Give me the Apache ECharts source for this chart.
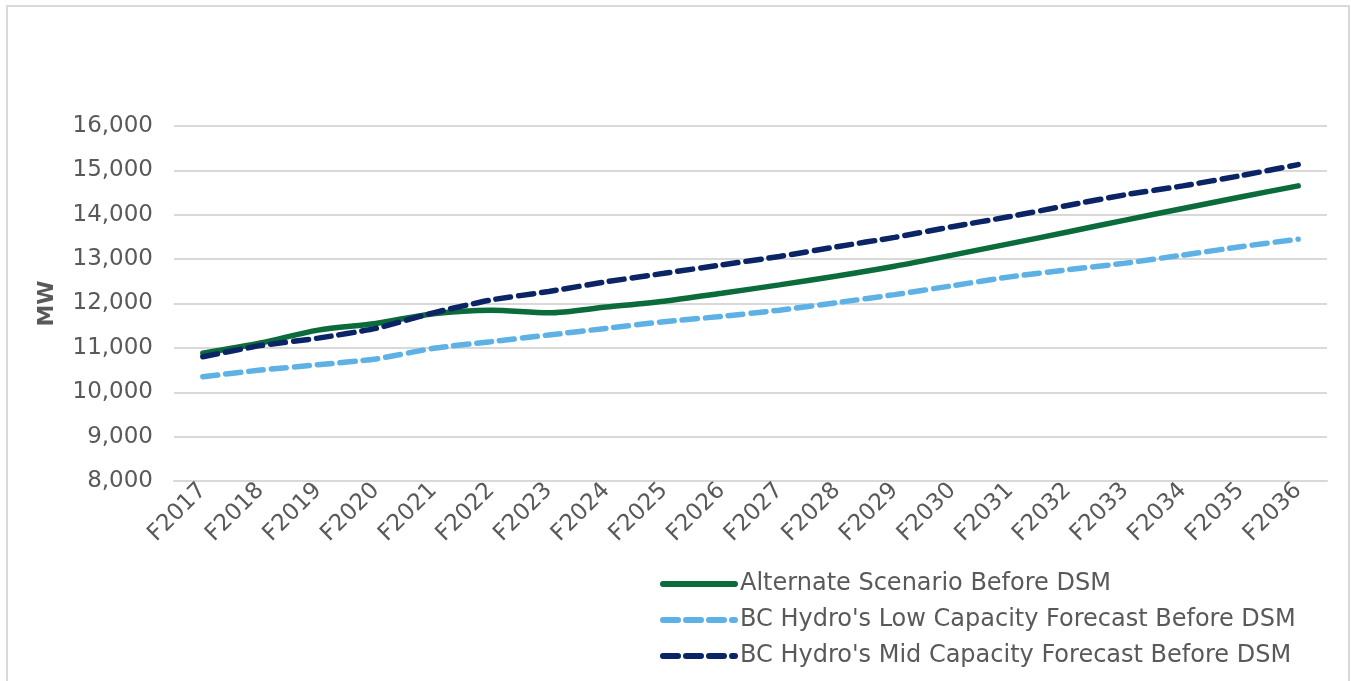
<!DOCTYPE html>
<html>
<head>
<meta charset="utf-8">
<script src="https://cdn.jsdelivr.net/npm/echarts@6/dist/echarts.min.js"></script>
<style>
  html, body { margin: 0; padding: 0; background: #ffffff; }
  #chart { width: 1351px; height: 681px; }
</style>
</head>
<body>
<div id="chart"></div>
<script>
// Fiscal years on the category axis
const years = ['F2017','F2018','F2019','F2020','F2021','F2022','F2023','F2024','F2025','F2026',
               'F2027','F2028','F2029','F2030','F2031','F2032','F2033','F2034','F2035','F2036'];

// Peak capacity demand (MW)
const alternateBeforeDSM = [10880, 11110, 11400, 11550, 11770, 11850, 11790, 11920, 12050, 12230,
                            12420, 12620, 12840, 13090, 13350, 13610, 13880, 14140, 14400, 14650];
const lowForecastBeforeDSM = [10350, 10500, 10620, 10750, 10990, 11140, 11290, 11440, 11590, 11710,
                              11850, 12020, 12200, 12400, 12600, 12760, 12910, 13090, 13280, 13450];
const midForecastBeforeDSM = [10800, 11050, 11220, 11440, 11790, 12080, 12270, 12490, 12680, 12870,
                              13060, 13280, 13490, 13730, 13960, 14210, 14450, 14650, 14880, 15130];

const seriesNames = ['Alternate Scenario Before DSM',
                     "BC Hydro's Low Capacity Forecast Before DSM",
                     "BC Hydro's Mid Capacity Forecast Before DSM"];

const FONT = 'DejaVu Sans';
const TEXT = '#595959';
const DASH = [15, 8];

const chart = echarts.init(document.getElementById('chart'), null, { renderer: 'canvas' });

chart.setOption({
  backgroundColor: '#ffffff',
  animation: false,
  textStyle: { fontFamily: FONT, color: TEXT },
  graphic: [{
    type: 'rect',
    shape: { x: 7, y: 6, width: 1342, height: 690 },
    style: { fill: 'none', stroke: '#d9d9d9', lineWidth: 2 },
    silent: true,
    z: -10
  }],
  grid: { left: 174, right: 24, top: 126, bottom: 200, containLabel: false },
  legend: {
    orient: 'vertical',
    left: 655,
    top: 566,
    itemWidth: 72,
    itemHeight: 12,
    itemGap: 10,
    itemStyle: { opacity: 0 },
    lineStyle: { width: 6 },
    textStyle: { fontFamily: FONT, fontSize: 24, color: TEXT, lineHeight: 26 },
    data: seriesNames
  },
  xAxis: {
    type: 'category',
    data: years,
    boundaryGap: true,
    axisLine: { show: true, lineStyle: { color: '#d9d9d9', width: 2 } },
    axisTick: { show: false },
    axisLabel: { rotate: 45, fontFamily: FONT, fontSize: 23, color: TEXT, margin: 6, interval: 0 }
  },
  yAxis: {
    type: 'value',
    min: 8000,
    max: 16000,
    interval: 1000,
    name: 'MW',
    nameLocation: 'middle',
    nameGap: 116,
    nameRotate: 90,
    nameTextStyle: { fontFamily: FONT, fontSize: 22, fontWeight: 'bold', color: TEXT },
    axisLine: { show: false },
    axisTick: { show: false },
    splitLine: { lineStyle: { color: '#d9d9d9', width: 2 } },
    axisLabel: {
      fontFamily: FONT, fontSize: 23, color: TEXT, margin: 21,
      formatter: v => v.toLocaleString('en-US')
    }
  },
  series: [
    {
      name: seriesNames[0],
      type: 'line',
      data: alternateBeforeDSM,
      symbol: 'none',
      smooth: 0.3,
      z: 3,
      lineStyle: { color: '#0b6b3a', width: 5.5, cap: 'round' },
      itemStyle: { color: '#0b6b3a' }
    },
    {
      name: seriesNames[1],
      type: 'line',
      data: lowForecastBeforeDSM,
      symbol: 'none',
      smooth: 0.2,
      z: 2,
      lineStyle: { color: '#5eb1e4', width: 5.5, type: DASH, cap: 'round' },
      itemStyle: { color: '#5eb1e4' }
    },
    {
      name: seriesNames[2],
      type: 'line',
      data: midForecastBeforeDSM,
      symbol: 'none',
      smooth: 0.2,
      z: 4,
      lineStyle: { color: '#0a2465', width: 5.5, type: DASH, cap: 'round' },
      itemStyle: { color: '#0a2465' }
    }
  ]
});
</script>
</body>
</html>
